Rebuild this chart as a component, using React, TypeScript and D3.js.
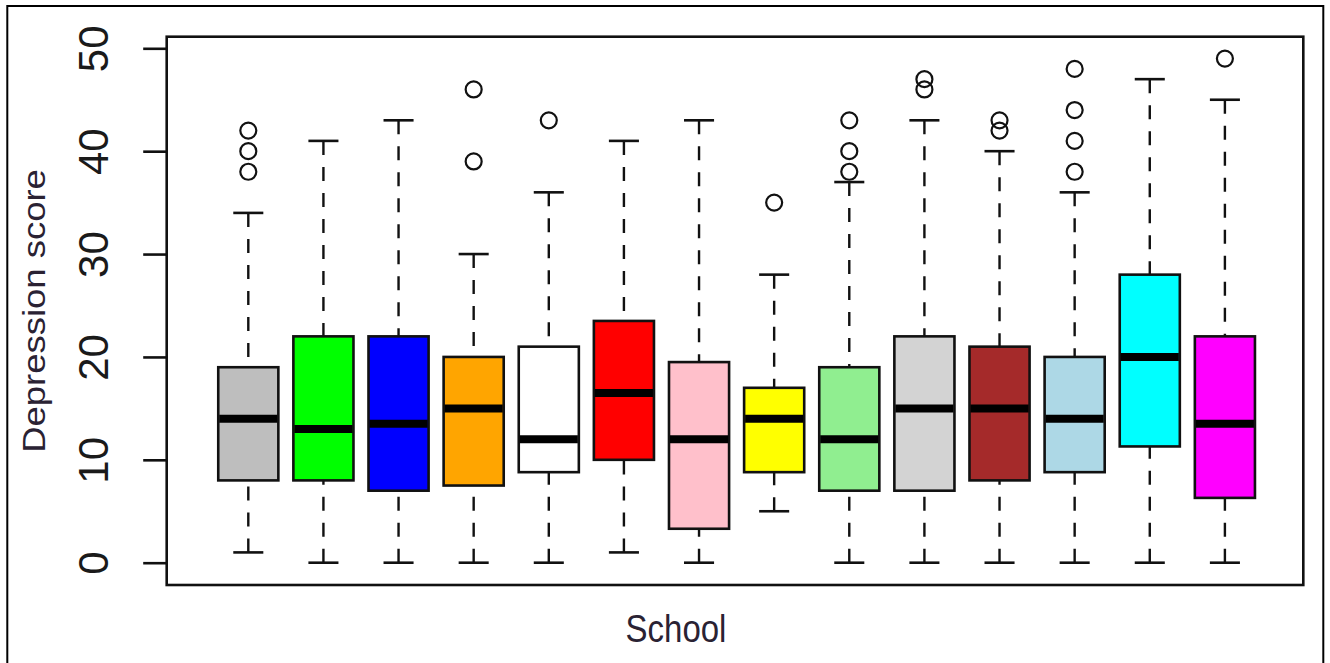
import React, { useEffect, useRef } from 'react'
import * as d3 from 'd3'

// one box per school
const schools = ['1', '2', '3', '4', '5', '6', '7', '8', '9', '10', '11', '12', '13', '14']
const fills = ['#BEBEBE', '#00FF00', '#0000FF', '#FFA500', '#FFFFFF', '#FF0000', '#FFC0CB',
  '#FFFF00', '#90EE90', '#D3D3D3', '#A52A2A', '#ADD8E6', '#00FFFF', '#FF00FF']
const lowerWhisker = [1, 0, 0, 0, 0, 1, 0, 5, 0, 0, 0, 0, 0, 0]
const q1 = [8, 8, 7, 7.5, 8.8, 10, 3.3, 8.8, 7, 7, 8, 8.8, 11.3, 6.3]
const medians = [14, 13, 13.5, 15, 12, 16.5, 12, 14, 12, 15, 15, 14, 20, 13.5]
const q3 = [19, 22, 22, 20, 21, 23.5, 19.5, 17, 19, 22, 21, 20, 28, 22]
const upperWhisker = [34, 41, 43, 30, 36, 41, 43, 28, 37, 43, 40, 36, 47, 45]
const outliers = [[42, 40, 38], [], [], [46, 39], [43], [], [], [35], [43, 40, 38], [47, 46], [43, 42], [48, 44, 41, 38], [], [49]]
const yTicks = [0, 10, 20, 30, 40, 50]

const W = 1330
const H = 663
const plot = { left: 166.7, right: 1303.3, top: 36.7, bottom: 585 }
const font = '"Liberation Sans", Arial, sans-serif'

export default function App() {
  const ref = useRef<SVGSVGElement>(null)

  useEffect(() => {
    const svg = d3.select(ref.current)
    svg.selectAll('*').remove()

    const x = d3.scaleLinear().domain([1, 14]).range([248.3, 1224.9])
    const y = d3.scaleLinear().domain([0, 50]).range([562.7, 48.3])
    const unit = x(2) - x(1)
    const boxW = unit * 0.8
    const capW = boxW / 2

    svg.append('rect').attr('width', W).attr('height', H).attr('fill', '#fff')

    // outer frame (bottom edge sits below the picture)
    svg.append('rect')
      .attr('x', 7.3).attr('y', 6).attr('width', 1323.3 - 7.3).attr('height', 680)
      .attr('fill', 'none').attr('stroke', '#000').attr('stroke-width', 2)

    const data = schools.map((s, i) => ({
      s, i,
      lo: lowerWhisker[i], q1: q1[i], med: medians[i], q3: q3[i], hi: upperWhisker[i],
      out: outliers[i], fill: fills[i]
    }))

    const g = svg.append('g')
    const box = g.selectAll('.box').data(data).enter().append('g').attr('class', 'box')

    // dashed whiskers, drawn from the cap towards the box
    box.append('line')
      .attr('x1', d => x(d.i + 1)).attr('x2', d => x(d.i + 1))
      .attr('y1', d => y(d.lo)).attr('y2', d => y(d.q1))
      .attr('stroke', '#111').attr('stroke-width', 2.4).attr('stroke-dasharray', '14,12')
    box.append('line')
      .attr('x1', d => x(d.i + 1)).attr('x2', d => x(d.i + 1))
      .attr('y1', d => y(d.hi)).attr('y2', d => y(d.q3))
      .attr('stroke', '#111').attr('stroke-width', 2.4).attr('stroke-dasharray', '14,12')

    // caps
    box.selectAll('.cap').data(d => [d.lo, d.hi].map(v => ({ v, i: d.i }))).enter()
      .append('line').attr('class', 'cap')
      .attr('x1', d => x(d.i + 1) - capW / 2).attr('x2', d => x(d.i + 1) + capW / 2)
      .attr('y1', d => y(d.v)).attr('y2', d => y(d.v))
      .attr('stroke', '#111').attr('stroke-width', 2.6)

    box.append('rect')
      .attr('x', d => x(d.i + 1) - boxW / 2)
      .attr('y', d => y(d.q3))
      .attr('width', boxW)
      .attr('height', d => y(d.q1) - y(d.q3))
      .attr('fill', d => d.fill)
      .attr('stroke', '#111').attr('stroke-width', 2.6)

    box.append('line')
      .attr('x1', d => x(d.i + 1) - boxW / 2 + 1).attr('x2', d => x(d.i + 1) + boxW / 2 - 1)
      .attr('y1', d => y(d.med)).attr('y2', d => y(d.med))
      .attr('stroke', '#000').attr('stroke-width', 8)

    box.selectAll('.out').data(d => d.out.map(v => ({ v, i: d.i }))).enter()
      .append('circle').attr('class', 'out')
      .attr('cx', d => x(d.i + 1)).attr('cy', d => y(d.v)).attr('r', 8)
      .attr('fill', 'none').attr('stroke', '#111').attr('stroke-width', 2.2)

    // plot box
    svg.append('rect')
      .attr('x', plot.left).attr('y', plot.top)
      .attr('width', plot.right - plot.left).attr('height', plot.bottom - plot.top)
      .attr('fill', 'none').attr('stroke', '#111').attr('stroke-width', 2.6)

    //add y axis
    const axis = svg.append('g')
      .attr('transform', 'translate(' + plot.left + ',0)')
      .call(d3.axisLeft(y).tickValues(yTicks).tickSize(23.5).tickPadding(0).tickFormat(d3.format('d')))
    axis.select('.domain').remove()
    axis.selectAll('.tick line').attr('stroke', '#111').attr('stroke-width', 2.6)
    axis.selectAll('.tick text')
      .attr('x', null).attr('dy', null)
      .attr('transform', 'translate(-59,0) rotate(-90)')
      .attr('text-anchor', 'middle')
      .attr('font-family', font).attr('font-size', 42).attr('fill', '#1a1a1a')

    svg.append('text')
      .attr('transform', 'translate(45,311) rotate(-90) scale(1.14,1)')
      .attr('text-anchor', 'middle')
      .attr('font-family', font).attr('font-size', 32).attr('fill', '#2a2233')
      .text('Depression score')

    svg.append('text')
      .attr('transform', 'translate(676,641.5) scale(1,1.18)')
      .attr('text-anchor', 'middle')
      .attr('font-family', font).attr('font-size', 33).attr('fill', '#2a2233')
      .text('School')
  }, [])

  return (
    <svg ref={ref} width={W} height={H}
      style={{ position: 'absolute', left: 0, top: 0, display: 'block' }} />
  )
}
